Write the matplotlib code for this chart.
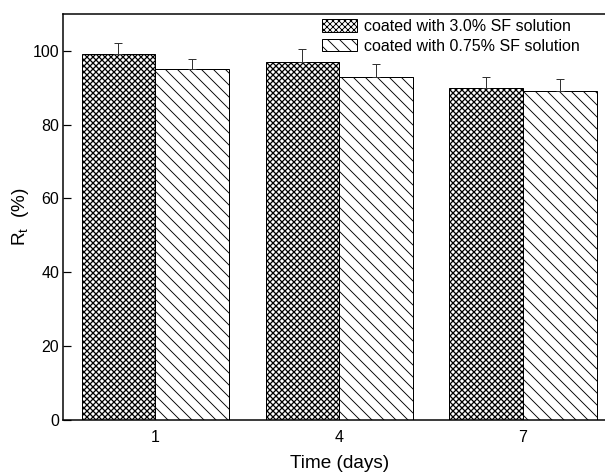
import matplotlib
matplotlib.use("Agg")
import matplotlib.pyplot as plt
import numpy as np

days = ["1", "4", "7"]
series_names = ["coated with 3.0% SF solution", "coated with 0.75% SF solution"]
rt_30 = [99, 97, 90]
rt_30_err = [3.0, 3.4, 2.9]
rt_075 = [95, 93, 89]
rt_075_err = [2.7, 3.3, 3.4]

plt.rcParams['font.family'] = ['Liberation Sans', 'DejaVu Sans']
plt.rcParams['mathtext.fontset'] = 'custom'
plt.rcParams['mathtext.rm'] = 'Liberation Sans'
plt.rcParams['mathtext.it'] = 'Liberation Sans'
plt.rcParams['hatch.linewidth'] = 0.9

DPI = 72
fig = plt.figure(figsize=(605 / DPI, 475 / DPI), dpi=DPI)
ax = fig.add_axes([63.3 / 605, (475 - 419.5) / 475, (615 - 63.3) / 605, (419.5 - 13.9) / 475])

x = np.arange(len(days))
w = 0.4
b1 = ax.bar(x - w / 2, rt_30, w, yerr=[np.zeros(3), rt_30_err], color='white', edgecolor='black',
            hatch='xxxx', linewidth=1.0, label=series_names[0],
            error_kw=dict(ecolor='#333333', elinewidth=1.0, capsize=4, capthick=1.0))
b2 = ax.bar(x + w / 2, rt_075, w, yerr=[np.zeros(3), rt_075_err], color='white', edgecolor='black',
            hatch='\\\\', linewidth=1.0, label=series_names[1],
            error_kw=dict(ecolor='#333333', elinewidth=1.0, capsize=4, capthick=1.0))
for p in b1:
    try:
        p.set_hatch_linewidth(1.3)
    except AttributeError:
        pass

ax.set_xlim(-0.5, 2.5)
ax.set_ylim(0, 110)
ax.set_xticks(x)
ax.set_xticklabels(days)
ax.set_yticks([0, 20, 40, 60, 80, 100])
ax.tick_params(axis='both', direction='in', labelsize=16, width=1.2, length=8)
ax.tick_params(axis='x', length=0, pad=10)
ax.tick_params(axis='y', pad=4)
for s in ax.spines.values():
    s.set_linewidth(1.5)

ax.set_xlabel('Time (days)', fontsize=19, labelpad=11)
ax.set_ylabel(r'R$_\mathrm{t}$  (%)', fontsize=19, labelpad=2)

leg = ax.legend(loc='upper left', bbox_to_anchor=(322 / 605, 1 - 19 / 475),
                bbox_transform=fig.transFigure, frameon=False, fontsize=16,
                handlelength=2.2, handleheight=0.8, handletextpad=0.45,
                labelspacing=0.3, borderpad=0, borderaxespad=0)

fig.savefig('out.png', dpi=DPI)
